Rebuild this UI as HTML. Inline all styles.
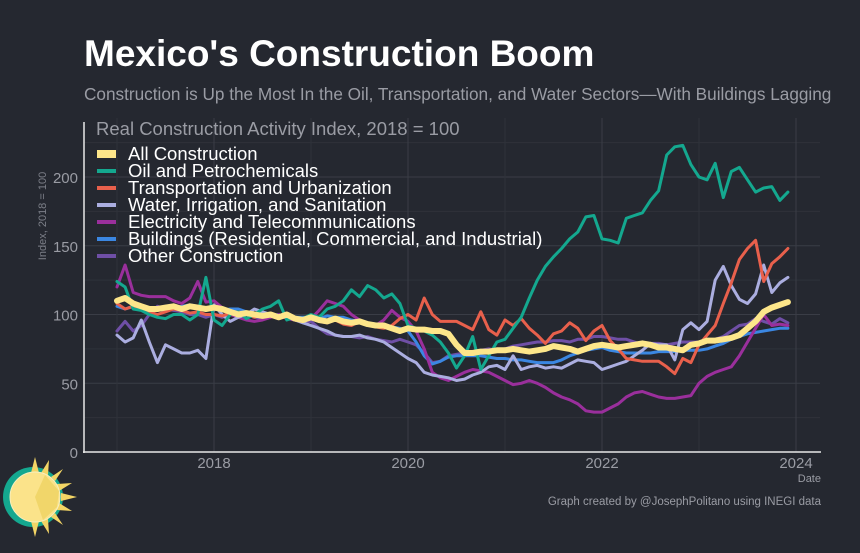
<!DOCTYPE html>
<html><head><meta charset="utf-8"><style>
html,body{margin:0;padding:0;background:#252830;}
body{width:860px;height:548px;overflow:hidden;font-family:"Liberation Sans",sans-serif;}
</style></head><body>
<svg id="chart" width="860" height="548" xmlns="http://www.w3.org/2000/svg" font-family="Liberation Sans, sans-serif">
<rect width="860" height="548" fill="#252830"/>
<text x="84" y="66" font-size="37" font-weight="bold" fill="#ffffff">Mexico's Construction Boom</text>
<text x="84" y="100" font-size="17.2" fill="#9a9ca4">Construction is Up the Most In the Oil, Transportation, and Water Sectors—With Buildings Lagging</text>
<g id="grid"></g>
<g id="axes"></g>
<g id="lines"></g>
<text x="96" y="135" font-size="18.5" fill="#9a9ca4">Real Construction Activity Index, 2018 = 100</text>
<g id="legend"></g>
<text transform="translate(46,216) rotate(-90)" text-anchor="middle" font-size="11" fill="#7c7f88">Index, 2018 = 100</text>
<text x="821" y="482" text-anchor="end" font-size="11" fill="#9a9ca4">Date</text>
<text x="821" y="505" text-anchor="end" font-size="11.5" fill="#9a9ca4">Graph created by @JosephPolitano using INEGI data</text>
<g transform="translate(35,497)">
<circle cx="-2" cy="0" r="30" fill="#14a88f"/>
<g fill="#f3d565">
<polygon points="0,-40 4,-24 -4,-24"/><polygon points="0,40 4,24 -4,24"/><polygon points="42,0 26,4 26,-4"/>
<polygon points="28,-28 16,-20 20,-16"/><polygon points="28,28 16,20 20,16"/>
<polygon points="14,-37 6,-24 13,-22"/><polygon points="14,37 6,24 13,22"/>
<polygon points="37,-14 24,-6 22,-13"/><polygon points="37,14 24,6 22,13"/>
</g>
<circle cx="0" cy="0" r="25" fill="#fbe38a" stroke="#f7efc0" stroke-width="1"/>
<polygon points="0,0 10,-22 24,-6 22,10 8,23" fill="#f1d66a"/>
</g>
<script>
var categories=[];for(var yy=2017;yy<=2023;yy++){for(var m=0;m<12;m++){categories.push(yy+m/12);}}
var seriesNames=["All Construction","Oil and Petrochemicals","Transportation and Urbanization","Water, Irrigation, and Sanitation","Electricity and Telecommunications","Buildings (Residential, Commercial, and Industrial)","Other Construction"];
var allConstruction=[110,112,108,106,104,104,105,106,104,106,105,104,105,104,102,100,101,100,99,100,98,100,97,96,98,96,95,97,95,94,95,93,92,92,90,88,90,89,89,88,88,86,78,72,72,73,73,74,74,75,74,73,74,75,77,76,75,73,75,77,78,77,76,77,78,79,78,76,76,75,74,78,79,81,81,82,83,85,90,95,102,105,107,109];
var oilPetro=[124,120,104,103,100,98,97,100,100,96,100,127,96,92,100,102,97,100,104,106,110,96,98,97,100,98,104,106,110,118,113,121,118,112,115,108,92,90,88,85,80,72,61,70,84,60,70,80,82,90,98,112,125,135,142,148,155,160,171,172,155,154,152,170,172,174,183,190,216,222,223,209,200,198,210,185,204,207,198,189,192,193,183,189];
var transport=[108,104,106,104,102,100,102,104,103,101,102,100,100,99,101,102,100,98,100,99,97,99,96,95,98,95,94,96,93,92,95,93,91,90,92,97,100,96,112,100,95,95,95,92,89,102,89,85,96,92,97,90,85,79,86,88,94,90,81,88,92,81,75,68,67,66,66,66,62,57,68,65,78,85,92,108,123,140,148,154,124,137,142,148];
var water=[85,80,83,96,80,65,78,75,72,72,74,68,107,100,95,98,100,104,102,100,98,100,96,94,92,90,88,85,84,84,85,83,82,80,76,72,68,65,58,56,55,54,52,53,56,58,62,63,60,70,60,62,63,61,62,61,64,67,66,65,60,62,64,66,70,74,79,78,78,67,89,94,89,95,125,135,121,111,108,115,136,116,123,127];
var electricity=[120,136,116,114,113,113,113,110,108,112,124,109,110,105,100,98,96,95,96,98,100,97,96,95,97,103,110,108,106,100,96,93,92,96,103,98,95,88,75,58,54,52,55,58,60,59,58,55,52,49,50,52,50,47,43,40,38,35,30,29,29,32,35,40,43,44,42,40,39,39,40,41,50,55,58,60,62,70,80,90,100,92,93,92];
var buildings=[106,104,106,104,103,104,103,104,106,107,106,105,104,103,104,104,102,101,100,99,100,98,98,98,98,97,99,98,98,96,95,94,93,92,91,90,88,80,70,64,66,69,70,70,70,70,69,68,68,67,67,66,65,65,65,67,70,72,74,75,76,74,73,72,72,72,72,73,73,73,74,74,74,75,77,79,82,84,86,87,88,89,90,90];
var other=[88,95,88,92,100,106,104,103,102,100,100,98,100,98,100,101,100,98,97,100,99,100,97,94,95,90,86,85,84,84,83,84,82,81,80,82,80,78,72,65,66,70,71,72,73,74,75,74,75,77,78,79,80,80,81,81,80,82,82,84,84,83,82,82,80,78,79,79,78,79,80,80,80,81,82,84,88,92,93,97,95,93,97,94];
var yTicks=[0,50,100,150,200];
var xTicks=[2018,2020,2022,2024];
var NS="http://www.w3.org/2000/svg";
function xs(t){return 214+(t-2018)*97;}
function ys(v){return 452-v*1.375;}
function mk(tag,attrs,parent){var e=document.createElementNS(NS,tag);for(var k in attrs)e.setAttribute(k,attrs[k]);parent.appendChild(e);return e;}
var grid=document.getElementById('grid'),axes=document.getElementById('axes'),lines=document.getElementById('lines'),legend=document.getElementById('legend');
for(var v=25;v<=225;v+=25){var gl=mk('line',{x1:84,x2:820,y1:ys(v),y2:ys(v),stroke:(v%50==0)?'#3a3d46':'#2f323a','stroke-width':1},grid);

}
for(var t=2017;t<=2024;t+=1){var gv=mk('line',{x1:xs(t),x2:xs(t),y1:118,y2:452,stroke:(t%2==0)?'#3a3d46':'#2f323a','stroke-width':1},grid);

}
yTicks.forEach(function(v){var tx=mk('text',{x:78,y:ys(v)+6,'text-anchor':'end','font-size':15,fill:'#9a9ca4'},axes);tx.textContent=v;

});
xTicks.forEach(function(t){var tx=mk('text',{x:xs(t),y:468,'text-anchor':'middle','font-size':15,fill:'#9a9ca4'},axes);tx.textContent=t;

});
var ya=mk('line',{x1:84,x2:84,y1:122,y2:453,stroke:'#e8e8e8','stroke-width':1.5},axes);


var xa=mk('line',{x1:83,x2:821,y1:452,y2:452,stroke:'#e8e8e8','stroke-width':1.5},axes);


var series=[
{d:other,c:'#6f4fa6',w:3,n:'line-other-construction'},
{d:buildings,c:'#3b87e2',w:3,n:'line-buildings'},
{d:electricity,c:'#9a2f9c',w:3,n:'line-electricity'},
{d:water,c:'#abaee0',w:3,n:'line-water'},
{d:transport,c:'#e8604c',w:3,n:'line-transportation'},
{d:oilPetro,c:'#14a88f',w:3,n:'line-oil'},
{d:allConstruction,c:'#fde68a',w:6,n:'line-all-construction'}];
series.forEach(function(s){var p=s.d.map(function(v,i){return (i?'L':'M')+xs(categories[i]).toFixed(1)+','+ys(v).toFixed(1);}).join('');
var pl=mk('path',{d:p,fill:'none',stroke:s.c,'stroke-width':s.w,'stroke-linejoin':'round','stroke-linecap':'round'},lines);

});
var legColors=['#fde68a','#14a88f','#e8604c','#abaee0','#9a2f9c','#3b87e2','#6f4fa6'];
seriesNames.forEach(function(n,i){var y=154+i*17;
var sw=mk('rect',{x:97,y:y-(i==0?4:2),width:19,height:(i==0?8:4),fill:legColors[i]},legend);


var tx=mk('text',{x:128,y:y+6,'font-size':18.5,fill:'#ffffff'},legend);tx.textContent=n;

});
</script>
</svg>
</body></html>
